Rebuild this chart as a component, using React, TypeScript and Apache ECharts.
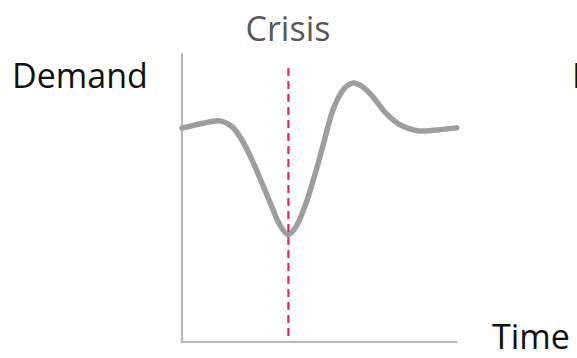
import React, { useEffect, useRef } from "react";
import * as echarts from "echarts";

const timeX: number[] = [0.1, 7.7, 13.2, 18.3, 21.9, 25.6, 29.2, 32.8, 35.7, 38.8, 41.9, 45.6, 49.2, 52.1, 55.0, 58.7, 62.3, 65.9, 69.6, 73.9, 78.3, 81.9, 86.7, 92.8, 100];
const demandY: number[] = [74.2, 75.9, 76.8, 74.7, 70.1, 63.1, 55.1, 46.8, 40.5, 37.2, 40.5, 49.2, 60.5, 70.8, 80.5, 87.5, 89.9, 88.5, 85.0, 79.8, 76.0, 74.3, 73.2, 73.6, 74.3];
const crisisX = 38.8;
const crisisSpan: number[] = [95.1, 1.6];

const labels = { top: "Crisis", yName: "Demand", xName: "Time" };

export default function App() {
  const ref = useRef<HTMLDivElement>(null);
  useEffect(() => {
    if (!ref.current) return;
    const chart = echarts.init(ref.current, undefined, { renderer: "svg" });
    const font = "'Open Sans', sans-serif";
    chart.setOption({
      animation: false,
      grid: { left: 181.7, top: 54, width: 275, height: 287.5 },
      xAxis: {
        type: "value",
        min: 0,
        max: 100,
        axisLine: { show: true, onZero: false, lineStyle: { color: "#b8b8b8", width: 2.2 } },
        axisTick: { show: false },
        axisLabel: { show: false },
        splitLine: { show: false },
      },
      yAxis: {
        type: "value",
        min: 0,
        max: 100,
        axisLine: { show: true, onZero: false, lineStyle: { color: "#b8b8b8", width: 2.2 } },
        axisTick: { show: false },
        axisLabel: { show: false },
        splitLine: { show: false },
      },
      series: [
        {
          type: "line",
          data: timeX.map((x, i) => [x, demandY[i]]),
          smooth: 0.3,
          showSymbol: false,
          lineStyle: { color: "#9e9e9e", width: 5.5, cap: "round", join: "round" },
        },
        {
          type: "line",
          data: crisisSpan.map((y) => [crisisX, y]),
          showSymbol: false,
          lineStyle: { color: "#e8245f", width: 2.2, type: [8, 5] },
        },
      ],
      graphic: [
        {
          type: "text",
          x: 288,
          y: 11,
          style: { text: labels.top, font: `34px ${font}`, fill: "#595959", align: "center", verticalAlign: "top" },
        },
        {
          type: "text",
          x: 12,
          y: 58,
          style: { text: labels.yName, font: `34px ${font}`, fill: "#111", verticalAlign: "top" },
        },
        {
          type: "text",
          x: 492,
          y: 319,
          style: { text: labels.xName, font: `34px ${font}`, fill: "#111", verticalAlign: "top" },
        },
        {
          type: "text",
          x: 572,
          y: 58,
          style: { text: labels.yName, font: `34px ${font}`, fill: "#111", verticalAlign: "top" },
        },
      ],
    });
    return () => chart.dispose();
  }, []);
  return <div ref={ref} style={{ width: 577, height: 358, position: "absolute", left: 0, top: 0 }} />;
}
